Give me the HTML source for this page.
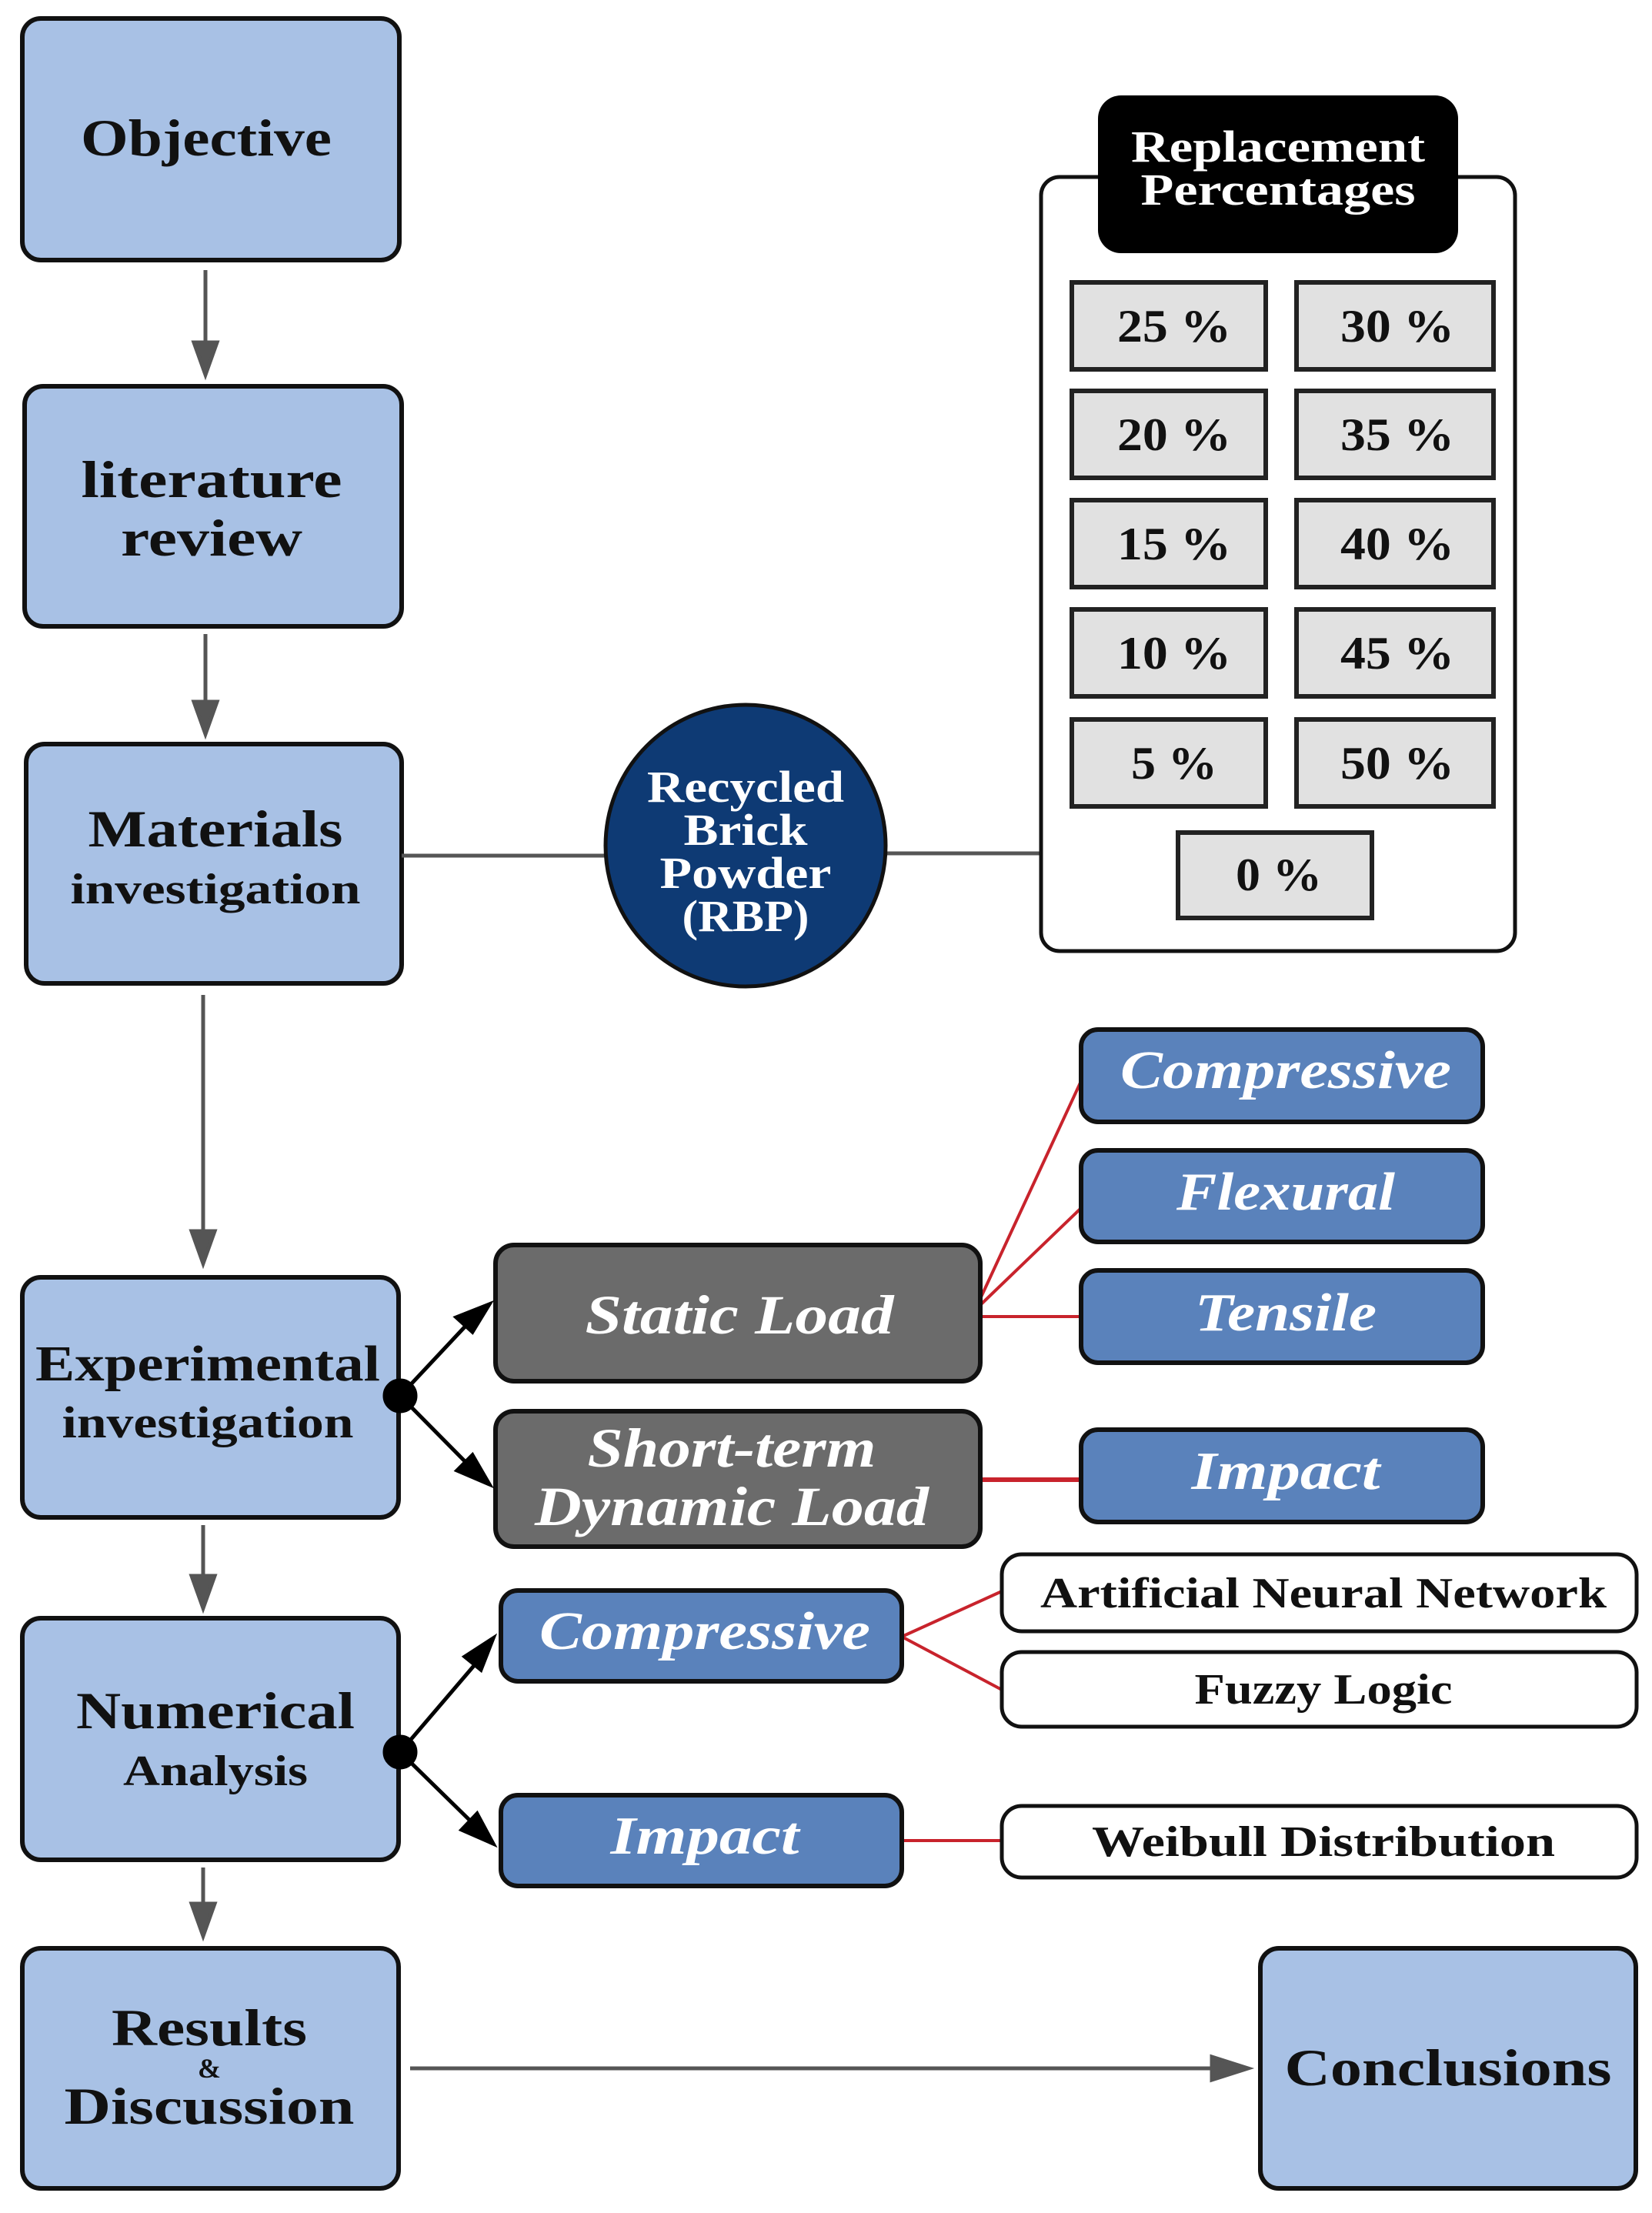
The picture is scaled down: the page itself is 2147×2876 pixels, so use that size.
<!DOCTYPE html>
<html><head><meta charset="utf-8"><style>
html,body{margin:0;padding:0;background:#fff;}
svg{display:block;}
text{font-family:"Liberation Serif",serif;font-weight:bold;text-anchor:middle;}
.it{font-style:italic;fill:#fff;}
</style></head><body>
<svg width="2147" height="2876" viewBox="0 0 2147 2876" xmlns="http://www.w3.org/2000/svg">
<g fill="#a8c1e5" stroke="#111" stroke-width="6">
<rect x="29" y="24" width="490" height="314" rx="24"/>
<rect x="32" y="502" width="490" height="312" rx="24"/>
<rect x="34" y="967" width="488" height="311" rx="24"/>
<rect x="29" y="1660" width="489" height="312" rx="24"/>
<rect x="29" y="2103" width="489" height="314" rx="24"/>
<rect x="29" y="2532" width="489" height="312" rx="24"/>
<rect x="1638" y="2532" width="488" height="312" rx="24"/>
</g>
<g stroke="#555" stroke-width="5" fill="#555">
<line x1="267" y1="351" x2="267" y2="450"/><polygon points="252,445 282,445 267,487"/>
<line x1="267" y1="824" x2="267" y2="915"/><polygon points="252,912 282,912 267,954"/>
<line x1="264" y1="1293" x2="264" y2="1605"/><polygon points="249,1600 279,1600 264,1642"/>
<line x1="264" y1="1982" x2="264" y2="2052"/><polygon points="249,2048 279,2048 264,2090"/>
<line x1="264" y1="2427" x2="264" y2="2478"/><polygon points="249,2474 279,2474 264,2516"/>
<line x1="533" y1="2688" x2="1580" y2="2688"/><polygon points="1575,2673 1575,2703 1622,2688"/>
<line x1="522" y1="1112" x2="790" y2="1112"/>
<line x1="1150" y1="1109" x2="1354" y2="1109"/>
</g>
<ellipse cx="969" cy="1099" rx="182" ry="183" fill="#0e3a74" stroke="#111" stroke-width="5"/>
<g fill="#fff" font-size="58" lengthAdjust="spacingAndGlyphs">
<text x="969" y="1042" textLength="256" lengthAdjust="spacingAndGlyphs">Recycled</text>
<text x="969" y="1098" textLength="161" lengthAdjust="spacingAndGlyphs">Brick</text>
<text x="969" y="1154" textLength="223" lengthAdjust="spacingAndGlyphs">Powder</text>
<text x="969" y="1210" textLength="165" lengthAdjust="spacingAndGlyphs">(RBP)</text>
</g>
<rect x="1353" y="230" width="616" height="1006" rx="24" fill="#fff" stroke="#111" stroke-width="5"/>
<rect x="1427" y="124" width="468" height="205" rx="30" fill="#000"/>
<text x="1661" y="210" font-size="58" fill="#fff" textLength="382" lengthAdjust="spacingAndGlyphs">Replacement</text>
<text x="1661" y="266" font-size="58" fill="#fff" textLength="357" lengthAdjust="spacingAndGlyphs">Percentages</text>
<g fill="#e1e1e1" stroke="#222" stroke-width="6">
<rect x="1393" y="367" width="252" height="113"/><rect x="1685" y="367" width="256" height="113"/>
<rect x="1393" y="508" width="252" height="113"/><rect x="1685" y="508" width="256" height="113"/>
<rect x="1393" y="650" width="252" height="113"/><rect x="1685" y="650" width="256" height="113"/>
<rect x="1393" y="792" width="252" height="113"/><rect x="1685" y="792" width="256" height="113"/>
<rect x="1393" y="935" width="252" height="113"/><rect x="1685" y="935" width="256" height="113"/>
<rect x="1531" y="1082" width="252" height="111"/>
</g>
<g font-size="60" fill="#111">
<text x="1526" y="444" textLength="148" lengthAdjust="spacingAndGlyphs">25 %</text><text x="1816" y="444" textLength="148" lengthAdjust="spacingAndGlyphs">30 %</text>
<text x="1526" y="585" textLength="148" lengthAdjust="spacingAndGlyphs">20 %</text><text x="1816" y="585" textLength="148" lengthAdjust="spacingAndGlyphs">35 %</text>
<text x="1526" y="727" textLength="148" lengthAdjust="spacingAndGlyphs">15 %</text><text x="1816" y="727" textLength="148" lengthAdjust="spacingAndGlyphs">40 %</text>
<text x="1526" y="869" textLength="148" lengthAdjust="spacingAndGlyphs">10 %</text><text x="1816" y="869" textLength="148" lengthAdjust="spacingAndGlyphs">45 %</text>
<text x="1526" y="1012" textLength="112" lengthAdjust="spacingAndGlyphs">5 %</text><text x="1816" y="1012" textLength="148" lengthAdjust="spacingAndGlyphs">50 %</text>
<text x="1662" y="1157" textLength="112" lengthAdjust="spacingAndGlyphs">0 %</text>
</g>
<g fill="#111">
<text x="268" y="202" font-size="68" textLength="326" lengthAdjust="spacingAndGlyphs">Objective</text>
<text x="275" y="646" font-size="68" textLength="339" lengthAdjust="spacingAndGlyphs">literature</text>
<text x="275" y="722" font-size="68" textLength="236" lengthAdjust="spacingAndGlyphs">review</text>
<text x="280" y="1100" font-size="68" textLength="331" lengthAdjust="spacingAndGlyphs">Materials</text>
<text x="280" y="1174" font-size="56" textLength="377" lengthAdjust="spacingAndGlyphs">investigation</text>
<text x="270" y="1794" font-size="66" textLength="448" lengthAdjust="spacingAndGlyphs">Experimental</text>
<text x="270" y="1868" font-size="58" textLength="379" lengthAdjust="spacingAndGlyphs">investigation</text>
<text x="280" y="2246" font-size="68" textLength="362" lengthAdjust="spacingAndGlyphs">Numerical</text>
<text x="280" y="2320" font-size="56" textLength="240" lengthAdjust="spacingAndGlyphs">Analysis</text>
<text x="272" y="2658" font-size="68" textLength="254" lengthAdjust="spacingAndGlyphs">Results</text>
<text x="272" y="2700" font-size="36">&amp;</text>
<text x="272" y="2760" font-size="68" textLength="377" lengthAdjust="spacingAndGlyphs">Discussion</text>
<text x="1882" y="2710" font-size="68" textLength="425" lengthAdjust="spacingAndGlyphs">Conclusions</text>
</g>
<g stroke="#c8232c" stroke-width="4" fill="none">
<line x1="1273" y1="1690" x2="1405" y2="1405"/>
<line x1="1273" y1="1697" x2="1405" y2="1570"/>
<line x1="1273" y1="1711" x2="1405" y2="1711"/>
<line x1="1273" y1="1923" x2="1405" y2="1923" stroke-width="6"/>
<line x1="1172" y1="2127" x2="1302" y2="2068"/>
<line x1="1172" y1="2127" x2="1302" y2="2196"/>
<line x1="1172" y1="2392" x2="1302" y2="2392"/>
</g>
<g stroke="#111" stroke-width="6">
<rect x="644" y="1618" width="630" height="177" rx="24" fill="#6b6b6b"/>
<rect x="644" y="1834" width="630" height="176" rx="24" fill="#6b6b6b"/>
<rect x="1405" y="1338" width="522" height="120" rx="22" fill="#5a82bb"/>
<rect x="1405" y="1495" width="522" height="119" rx="22" fill="#5a82bb"/>
<rect x="1405" y="1651" width="522" height="120" rx="22" fill="#5a82bb"/>
<rect x="1405" y="1858" width="522" height="120" rx="22" fill="#5a82bb"/>
<rect x="651" y="2067" width="521" height="118" rx="22" fill="#5a82bb"/>
<rect x="651" y="2333" width="521" height="118" rx="22" fill="#5a82bb"/>
<rect x="1302" y="2020" width="825" height="100" rx="26" fill="#fff" stroke-width="5"/>
<rect x="1302" y="2147" width="825" height="97" rx="26" fill="#fff" stroke-width="5"/>
<rect x="1302" y="2347" width="825" height="93" rx="26" fill="#fff" stroke-width="5"/>
</g>
<g font-size="72">
<text class="it" x="961" y="1733" textLength="401" lengthAdjust="spacingAndGlyphs">Static Load</text>
<text class="it" x="951" y="1906" textLength="375" lengthAdjust="spacingAndGlyphs">Short-term</text>
<text class="it" x="951" y="1982" textLength="512" lengthAdjust="spacingAndGlyphs">Dynamic  Load</text>
<text class="it" x="1671" y="1414" font-size="70" textLength="430" lengthAdjust="spacingAndGlyphs">Compressive</text>
<text class="it" x="1671" y="1572" font-size="70" textLength="284" lengthAdjust="spacingAndGlyphs">Flexural</text>
<text class="it" x="1671" y="1729" font-size="70" textLength="236" lengthAdjust="spacingAndGlyphs">Tensile</text>
<text class="it" x="1671" y="1935" font-size="70" textLength="245" lengthAdjust="spacingAndGlyphs">Impact</text>
<text class="it" x="916" y="2143" font-size="70" textLength="430" lengthAdjust="spacingAndGlyphs">Compressive</text>
<text class="it" x="916" y="2409" font-size="70" textLength="245" lengthAdjust="spacingAndGlyphs">Impact</text>
</g>
<g fill="#111" font-size="56">
<text x="1720" y="2089" textLength="736" lengthAdjust="spacingAndGlyphs">Artificial Neural Network</text>
<text x="1720" y="2214" textLength="335" lengthAdjust="spacingAndGlyphs">Fuzzy Logic</text>
<text x="1720" y="2412" textLength="602" lengthAdjust="spacingAndGlyphs">Weibull Distribution</text>
</g>
<g stroke="#000" stroke-width="5" fill="#000">
<circle cx="520" cy="1814" r="20"/>
<line x1="520" y1="1814" x2="610" y2="1718"/><polygon points="636,1695 593,1712 614,1731"/>
<line x1="520" y1="1814" x2="610" y2="1905"/><polygon points="636,1929 614,1891 594,1911"/>
<circle cx="520" cy="2277" r="20"/>
<line x1="520" y1="2277" x2="620" y2="2160"/><polygon points="641,2129 604,2153 625,2170"/>
<line x1="520" y1="2277" x2="615" y2="2370"/><polygon points="641,2396 620,2357 600,2378"/>
</g>
</svg>
</body></html>
